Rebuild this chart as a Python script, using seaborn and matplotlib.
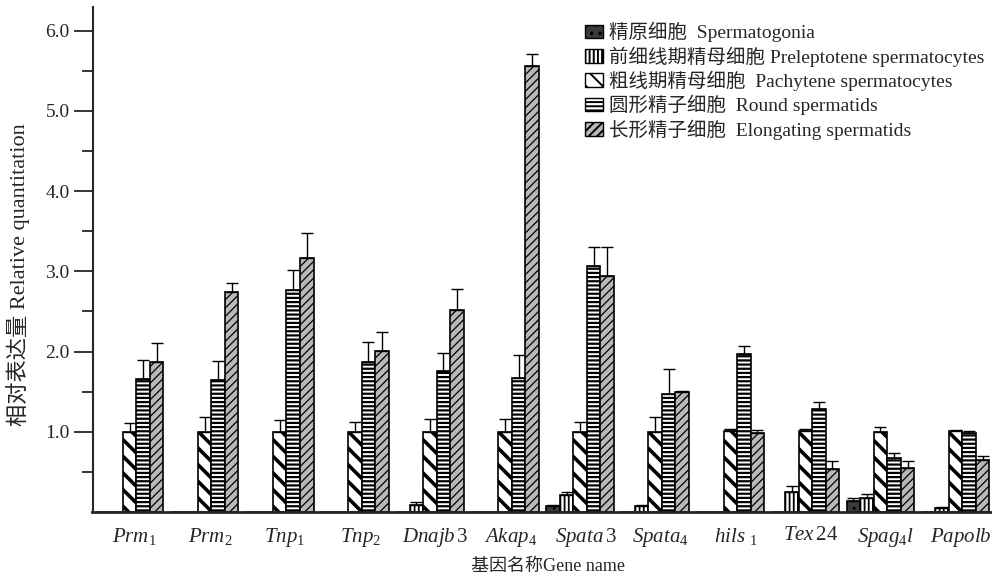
"""Relative quantitation of spermatogenic genes across germ cell stages."""

import matplotlib
matplotlib.use("Agg")
import matplotlib.pyplot as plt
from matplotlib.patches import Patch
import seaborn as sns
import pandas as pd
import numpy as np

genes = ["Prm1", "Prm2", "Tnp1", "Tnp2", "Dnajb3", "Akap4",
         "Spata3", "Spata4", "hils1", "Tex24", "Spag4l", "Papolb"]
gene_labels = [r"$\mathit{Prm}_{\mathit{1}}$", r"$\mathit{Prm}_{\mathit{2}}$",
               r"$\mathit{Tnp}_{\mathit{1}}$", r"$\mathit{Tnp}_{\mathit{2}}$",
               r"$\mathit{Dnajb}\,\mathrm{3}$", r"$\mathit{Akap}_{\mathit{4}}$",
               r"$\mathit{Spata}\,\mathrm{3}$", r"$\mathit{Spata}_{\mathit{4}}$",
               r"$\mathit{hils}\ _{\mathit{1}}$", r"$\mathit{Tex}\,\mathrm{24}$",
               r"$\mathit{Spag}_{\mathit{4}}\mathit{l}$", r"$\mathit{Papolb}$"]

stages = ["精原细胞  Spermatogonia",
          "前细线期精母细胞 Preleptotene spermatocytes",
          "粗线期精母细胞  Pachytene spermatocytes",
          "圆形精子细胞  Round spermatids",
          "长形精子细胞  Elongating spermatids"]

spermatogonia = [0, 0, 0, 0, 0, 0, 0.07, 0, 0, 0, 0.14, 0]
spermatogonia_err = [0, 0, 0, 0, 0, 0, 0.02, 0, 0, 0, 0.03, 0]
preleptotene = [0, 0, 0, 0, 0.09, 0, 0.21, 0.07, 0, 0.25, 0.18, 0.05]
preleptotene_err = [0, 0, 0, 0, 0.04, 0, 0.04, 0.02, 0, 0.08, 0.04, 0.01]
pachytene = [1.00, 1.00, 1.00, 1.00, 1.00, 1.00, 1.00, 1.00, 1.01, 1.01, 1.00, 1.01]
pachytene_err = [0.11, 0.18, 0.15, 0.12, 0.16, 0.16, 0.12, 0.19, 0.03, 0.03, 0.06, 0.01]
round_sp = [1.66, 1.64, 2.77, 1.87, 1.76, 1.67, 3.07, 1.47, 1.97, 1.29, 0.67, 0.99]
round_err = [0.24, 0.24, 0.25, 0.25, 0.22, 0.29, 0.23, 0.31, 0.10, 0.08, 0.07, 0.02]
elongating = [1.87, 2.74, 3.17, 2.01, 2.52, 5.56, 2.94, 1.50, 0.99, 0.54, 0.55, 0.65]
elongating_err = [0.24, 0.12, 0.31, 0.23, 0.26, 0.15, 0.36, 0.01, 0.03, 0.10, 0.09, 0.05]

values = [spermatogonia, preleptotene, pachytene, round_sp, elongating]
errors = [spermatogonia_err, preleptotene_err, pachytene_err, round_err, elongating_err]
faces = ["#3a3a3a", "white", "white", "white", "#b8b8b8"]
hatches = ["..", "||||", "\\\\", "----", "////"]
hatch_lws = [1.0, 1.3, 2.6, 1.6, 0.9]

df = pd.DataFrame({
    "gene": np.tile(genes, len(stages)),
    "stage": np.repeat(stages, len(genes)),
    "value": np.concatenate(values),
})

sns.set_style("ticks")
plt.rcParams["font.family"] = ["Liberation Serif", "Noto Sans CJK SC"]
plt.rcParams["mathtext.fontset"] = "custom"
plt.rcParams["mathtext.it"] = "Liberation Serif:italic"
plt.rcParams["mathtext.rm"] = "Liberation Serif"
plt.rcParams["hatch.linewidth"] = 1.4
plt.rcParams["hatch.color"] = "black"


def style_patch(p, hatch, lw):
    p.set_hatch(hatch)
    if hasattr(p, "set_hatch_linewidth"):
        p.set_hatch_linewidth(lw)


fig = plt.figure(figsize=(9.92, 5.77), dpi=100)
ax = fig.add_axes([92.5 / 992, 1 - 512 / 577, 899.5 / 992, 504.5 / 577])

sns.barplot(data=df, x="gene", y="value", hue="stage", order=genes, hue_order=stages,
            width=0.9, errorbar=None, palette=faces, edgecolor="black",
            linewidth=1.2, legend=False, ax=ax)

for cont, hatch, lw, err in zip(ax.containers, hatches, hatch_lws, errors):
    xs, tops, es = [], [], []
    for bar, e in zip(cont, err):
        style_patch(bar, hatch, lw)
        if e > 0:
            xs.append(bar.get_x() + bar.get_width() / 2)
            tops.append(bar.get_height())
            es.append(e)
    if xs:
        ax.errorbar(xs, tops, yerr=[np.zeros(len(es)), es], fmt="none",
                    ecolor="black", elinewidth=1.0, capsize=4.5, capthick=1.0)

ax.set_xlim(-0.493, 11.485)
ax.set_ylim(0, 6.29)
ax.set_yticks([1, 2, 3, 4, 5, 6])
ax.set_yticklabels(["1.0", "2.0", "3.0", "4.0", "5.0", "6.0"], fontsize=14)
ax.set_yticks(np.arange(0.5, 6.0, 1.0), minor=True)
ax.tick_params(axis="y", which="major", length=13.5, width=1.3, pad=3)
ax.tick_params(axis="y", which="minor", length=8, width=1.3)
ax.set_xticks(np.arange(len(genes)) + 0.07)
ax.set_xticklabels(gene_labels, fontsize=15)
ax.tick_params(axis="x", length=0, pad=10)

ax.spines["top"].set_visible(False)
ax.spines["right"].set_visible(False)
ax.spines["left"].set_linewidth(1.5)
ax.spines["bottom"].set_linewidth(2.0)

ax.set_xlabel("")
ax.set_ylabel("")
fig.text(548 / 992, 1 - 566 / 577, "基因名称Gene name", ha="center", va="center", fontsize=13)
fig.text(18 / 992, 1 - 275 / 577, "相对表达量 Relative quantitation", ha="center",
         va="center", rotation=90, fontsize=16)

handles = []
for f, h, lw in zip(faces, hatches, hatch_lws):
    p = Patch(facecolor=f, edgecolor="black", linewidth=1.0)
    style_patch(p, h, lw)
    handles.append(p)
fig.legend(handles, stages, loc="upper left", bbox_to_anchor=(585 / 992, 1 - 22 / 577),
           frameon=False, fontsize=14, handlelength=0.9, handleheight=0.7,
           handletextpad=0.35, labelspacing=0.2, borderpad=0, borderaxespad=0)

fig.savefig("out.png", dpi=100)
